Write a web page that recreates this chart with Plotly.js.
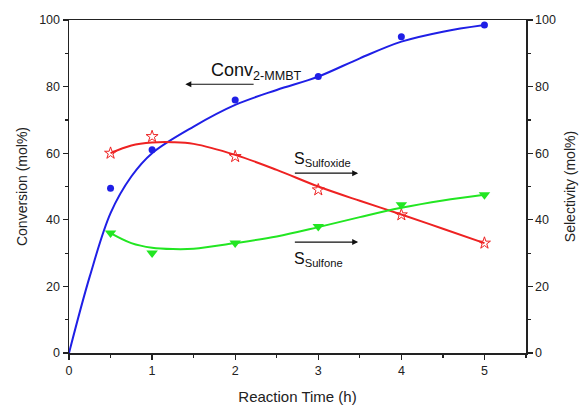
<!DOCTYPE html>
<html><head><meta charset="utf-8">
<script src="https://cdn.plot.ly/plotly-3.0.1.min.js"></script>
<style>html,body{margin:0;padding:0;background:#fff}#c{width:584px;height:405px}</style>
</head><body><div id="c"></div>
<script>
// measured points
var time = [0.5, 1, 2, 3, 4, 5];
var conversion = [49.5, 61, 76, 83, 95, 98.5];
var selSulfoxide = [60, 65, 59, 49, 41.5, 33];
var selSulfone = [36, 30, 33, 38, 44.5, 47.5];
// fitted curves
var convFitX = [0, 0.25, 0.5, 0.75, 1, 1.5, 2, 2.5, 3, 3.5, 4, 4.5, 5];
var convFitY = [0, 23, 42, 53, 60, 68, 74.5, 79, 83, 88.5, 93.5, 96.5, 98.5];
var sulfoxideFitX = [0.5, 0.75, 1, 1.25, 1.5, 2, 2.5, 3, 3.5, 4, 4.5, 5];
var sulfoxideFitY = [60, 62.3, 63.2, 63.3, 62.8, 59.5, 55, 50, 45.7, 41.6, 37.3, 33];
var sulfoneFitX = [0.5, 0.75, 1, 1.25, 1.5, 2, 2.5, 3, 3.5, 4, 4.5, 5];
var sulfoneFitY = [36, 33, 31.6, 31.2, 31.3, 33, 35, 37.8, 40.8, 43.6, 45.8, 47.5];

var blue = '#1f1fe6', red = '#ee2222', green = '#22e622';
var traces = [
  {x: convFitX, y: convFitY, mode: 'lines', line: {color: blue, width: 2, shape: 'spline'}, hoverinfo: 'skip'},
  {x: time, y: conversion, mode: 'markers', marker: {color: blue, size: 7, symbol: 'circle'}},
  {x: sulfoxideFitX, y: sulfoxideFitY, yaxis: 'y2', mode: 'lines', line: {color: red, width: 2, shape: 'spline'}},
  {x: time, y: selSulfoxide, yaxis: 'y2', mode: 'markers', marker: {color: red, size: 9, symbol: 'star-open', line: {width: 1}}},
  {x: sulfoneFitX, y: sulfoneFitY, yaxis: 'y2', mode: 'lines', line: {color: green, width: 2, shape: 'spline'}},
  {x: time, y: selSulfone, yaxis: 'y2', mode: 'markers', marker: {color: green, size: 10, symbol: 'triangle-down'}}
];
var tickFont = {family: 'Liberation Sans, Arial, sans-serif', size: 12.5, color: '#222'};
var titleFont = {family: 'Liberation Sans, Arial, sans-serif', size: 14, color: '#222'};
var layout = {
  width: 584, height: 405,
  margin: {l: 69, r: 58, t: 20, b: 52},
  paper_bgcolor: '#fff', plot_bgcolor: '#fff',
  showlegend: false,
  font: {family: 'Liberation Sans, Arial, sans-serif'},
  xaxis: {range: [0, 5.5], dtick: 1, tick0: 0, showgrid: false, zeroline: false,
    showline: true, linecolor: '#222', linewidth: 1.5, mirror: true,
    ticks: 'outside', ticklen: 5, tickwidth: 1.2, tickcolor: '#222',
    minor: {dtick: 0.5, ticks: 'outside', ticklen: 3, tickcolor: '#222', showgrid: false},
    tickfont: tickFont, title: {text: 'Reaction Time (h)', font: {family: titleFont.family, size: 15, color: '#222'}, standoff: 15}},
  yaxis: {range: [0, 100], dtick: 20, showgrid: false, zeroline: false,
    showline: true, linecolor: '#222', linewidth: 1.5,
    ticks: 'outside', ticklen: 5, tickwidth: 1.2, tickcolor: '#222',
    minor: {dtick: 10, ticks: 'outside', ticklen: 3, tickcolor: '#222', showgrid: false},
    tickfont: tickFont, title: {text: 'Conversion (mol%)', font: titleFont, standoff: 8}},
  yaxis2: {range: [0, 100], dtick: 20, overlaying: 'y', side: 'right', showgrid: false, zeroline: false,
    showline: true, linecolor: '#222', linewidth: 1.5,
    ticks: 'outside', ticklen: 5, tickwidth: 1.2, tickcolor: '#222',
    minor: {dtick: 10, ticks: 'outside', ticklen: 3, tickcolor: '#222', showgrid: false},
    tickfont: tickFont, title: {text: 'Selectivity (mol%)', font: titleFont, standoff: 10}},
  annotations: [
    {x: 1.4, y: 80.7, ax: 2.24, ay: 80.7, xref: 'x', yref: 'y', axref: 'x', ayref: 'y',
     showarrow: true, arrowhead: 2, arrowsize: 1, arrowwidth: 1.2, arrowcolor: '#111', text: ''},
    {x: 1.68, y: 84.5, xref: 'x', yref: 'y', xanchor: 'left', yanchor: 'middle', showarrow: false,
     text: 'Conv<sub>2-MMBT</sub>', font: {size: 18, color: '#111'}},
    {x: 3.48, y: 54, ax: 2.7, ay: 54, xref: 'x', yref: 'y2', axref: 'x', ayref: 'y2',
     showarrow: true, arrowhead: 2, arrowsize: 1, arrowwidth: 1.2, arrowcolor: '#111', text: ''},
    {x: 2.68, y: 58, xref: 'x', yref: 'y2', xanchor: 'left', yanchor: 'middle', showarrow: false,
     text: 'S<sub>Sulfoxide</sub>', font: {size: 16, color: '#111'}},
    {x: 3.48, y: 33.3, ax: 2.7, ay: 33.3, xref: 'x', yref: 'y2', axref: 'x', ayref: 'y2',
     showarrow: true, arrowhead: 2, arrowsize: 1, arrowwidth: 1.2, arrowcolor: '#111', text: ''},
    {x: 2.68, y: 28, xref: 'x', yref: 'y2', xanchor: 'left', yanchor: 'middle', showarrow: false,
     text: 'S<sub>Sulfone</sub>', font: {size: 16, color: '#111'}}
  ]
};
Plotly.newPlot('c', traces, layout, {displayModeBar: false, staticPlot: true});
</script></body></html>
